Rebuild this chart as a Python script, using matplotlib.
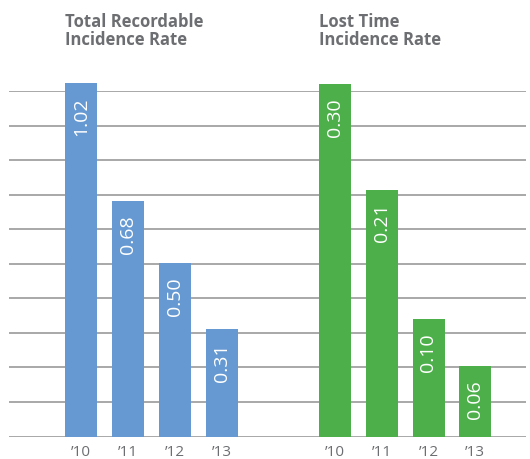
import numpy as np
import matplotlib
matplotlib.use("Agg")
import matplotlib.pyplot as plt

plt.rcParams['font.family'] = ['Open Sans', 'DejaVu Sans']

years = ["\u201910", "\u201911", "\u201912", "\u201913"]
trir_values = [1.02, 0.68, 0.50, 0.31]
ltir_values = [0.30, 0.21, 0.10, 0.06]
trir_title = "Total Recordable\nIncidence Rate"
ltir_title = "Lost Time\nIncidence Rate"

blue = "#6699d1"
green = "#4daf4a"
grid_gray = "#9a9a9a"
text_gray = "#6d6e71"

W, H = 530, 459
fig = plt.figure(figsize=(W / 100, H / 100), dpi=100)


def px_axes(x0, y_base, w, h):
    # pixel box (origin top-left) -> figure fraction
    return fig.add_axes([x0 / W, (H - y_base) / H, w / W, h / H])


# background gridlines across the whole width
base_y = 436.5
step = 34.55
bg = px_axes(9, base_y, 517, step * 10)
bg.set_xlim(0, 1)
bg.set_ylim(0, 10)
for k in range(11):
    bg.axhline(k, color=grid_gray, lw=1.2)
bg.axis("off")


def panel(x_left, unit_w, values, top_val, top_px, color, title):
    ax = px_axes(x_left, base_y, unit_w * 4, top_px)
    ax.patch.set_alpha(0)
    x = np.arange(len(values))
    ax.bar(x, values, width=32 / unit_w, color=color, zorder=3)
    ax.set_xlim(-0.5, 3.5)
    ax.set_ylim(0, top_val)
    for xi, v in zip(x, values):
        ax.annotate(f"{v:.2f}", (xi, v), xytext=(0, -10), textcoords="offset points",
                    rotation=90, ha="center", va="top", color="white", fontsize=14)
    for s in ax.spines.values():
        s.set_visible(False)
    ax.set_yticks([])
    ax.set_xticks(x)
    ax.set_xticklabels(years, fontsize=11, color=text_gray)
    ax.tick_params(axis="x", length=0, pad=6)
    fig.text((x_left + unit_w * 0.5 - 16) / W, 1 - 13 / H, title, ha="left", va="top",
             fontsize=12, fontweight="bold", color=text_gray, linespacing=1.0)
    return ax


panel(57.5, 47, trir_values, 1.02, 353.2, blue, trir_title)
panel(311.5, 46.8, ltir_values, 0.30, 352.5, green, ltir_title)

fig.savefig("out.png", dpi=100)
